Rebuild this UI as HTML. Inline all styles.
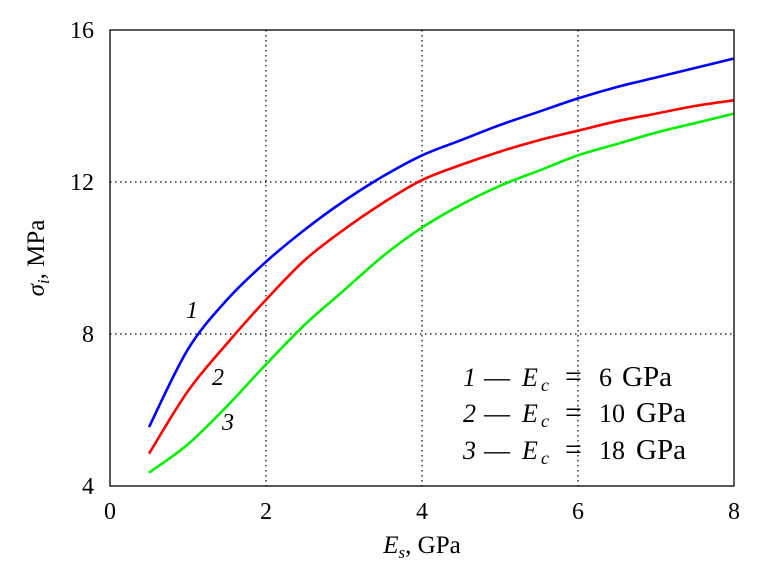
<!DOCTYPE html>
<html><head><meta charset="utf-8"><style>
html,body{margin:0;padding:0;background:#fff;}
svg{display:block;font-family:"Liberation Serif",serif;}
</style></head><body>
<svg id="chart" width="766" height="576" viewBox="0 0 766 576">
<g id="grid"></g>
<g id="ticks"></g>
<g id="series"></g>
<rect x="110" y="30" width="624" height="456" fill="none" stroke="#000" stroke-width="1.3"/>
<text x="422" y="553" font-size="25" text-anchor="middle"><tspan font-style="italic">E</tspan><tspan font-size="17" dy="5" font-style="italic">s</tspan><tspan dy="-5">, GPa</tspan></text>
<text transform="translate(44,258) rotate(-90)" font-size="25" text-anchor="middle"><tspan font-style="italic">σ</tspan><tspan font-size="17" dy="5" font-style="italic">i</tspan><tspan dy="-5">, MPa</tspan></text>
<text x="186" y="318" font-size="24" font-style="italic">1</text>
<text x="212" y="385" font-size="24" font-style="italic">2</text>
<text x="222" y="430" font-size="24" font-style="italic">3</text>
<g font-size="26">
<text y="386"><tspan x="463" font-style="italic">1</tspan><tspan x="484">—</tspan><tspan x="522" font-style="italic">E</tspan><tspan x="541" dy="5" font-size="18" font-style="italic">c</tspan><tspan x="565" dy="-5" font-size="30">=</tspan><tspan x="599">6</tspan><tspan x="622" font-size="29">GPa</tspan></text>
<text y="422"><tspan x="463" font-style="italic">2</tspan><tspan x="484">—</tspan><tspan x="522" font-style="italic">E</tspan><tspan x="541" dy="5" font-size="18" font-style="italic">c</tspan><tspan x="565" dy="-5" font-size="30">=</tspan><tspan x="599">10</tspan><tspan x="636" font-size="29">GPa</tspan></text>
<text y="459"><tspan x="463" font-style="italic">3</tspan><tspan x="484">—</tspan><tspan x="522" font-style="italic">E</tspan><tspan x="541" dy="5" font-size="18" font-style="italic">c</tspan><tspan x="565" dy="-5" font-size="30">=</tspan><tspan x="599">18</tspan><tspan x="636" font-size="29">GPa</tspan></text>
</g>
</svg>
<script>
const xValues=[0.5,1,1.5,2,2.5,3,3.5,4,4.5,5,5.5,6,6.5,7,7.5,8];
const series1=[5.55,7.6,8.9,9.9,10.75,11.5,12.15,12.7,13.1,13.5,13.85,14.2,14.5,14.75,15.0,15.25];
const series2=[4.85,6.5,7.75,8.9,9.95,10.75,11.45,12.05,12.45,12.8,13.1,13.35,13.6,13.8,14.0,14.15];
const series3=[4.35,5.1,6.1,7.2,8.25,9.15,10.05,10.8,11.4,11.9,12.3,12.7,13.0,13.3,13.55,13.8];
const xTicks=[0,2,4,6,8];
const yTicks=[4,8,12,16];
const xGrid=[2,4,6];
const yGrid=[8,12];
const X=v=>110+v*78, Y=v=>486-(v-4)*38;
const NS="http://www.w3.org/2000/svg";
const mk=(t,a,p)=>{const e=document.createElementNS(NS,t);for(const k in a)e.setAttribute(k,a[k]);p.appendChild(e);return e;};
const grid=document.getElementById('grid'),ticks=document.getElementById('ticks'),ser=document.getElementById('series');
xGrid.forEach(v=>{const l=mk('line',{x1:X(v),x2:X(v),y1:30,y2:486,stroke:'#000','stroke-width':1.2,'stroke-dasharray':'1.5,3.5'},grid);

});
yGrid.forEach(v=>{const l=mk('line',{x1:110,x2:734,y1:Y(v),y2:Y(v),stroke:'#000','stroke-width':1.2,'stroke-dasharray':'1.5,3.5'},grid);

});
xTicks.forEach(v=>{const t=mk('text',{x:X(v),y:519,'font-size':24,'text-anchor':'middle'},ticks);t.textContent=v;

});
yTicks.forEach(v=>{const t=mk('text',{x:94,y:Y(v)+8,'font-size':24,'text-anchor':'end'},ticks);t.textContent=v;

});
function path(vals){let pts=xValues.map((x,i)=>[X(x),Y(vals[i])]);let d='M'+pts[0];
for(let i=0;i<pts.length-1;i++){const p0=pts[i-1]||pts[i],p1=pts[i],p2=pts[i+1],p3=pts[i+2]||p2;
d+=' C'+(p1[0]+(p2[0]-p0[0])/6)+','+(p1[1]+(p2[1]-p0[1])/6)+' '+(p2[0]-(p3[0]-p1[0])/6)+','+(p2[1]-(p3[1]-p1[1])/6)+' '+p2;}return d;}
[[series1,'#0000ff','series-1-line'],[series2,'#ff0000','series-2-line'],[series3,'#00ee00','series-3-line']].forEach(([s,c,n])=>{
const p=mk('path',{d:path(s),fill:'none',stroke:c,'stroke-width':2.6},ser);

});
</script>
</body></html>
